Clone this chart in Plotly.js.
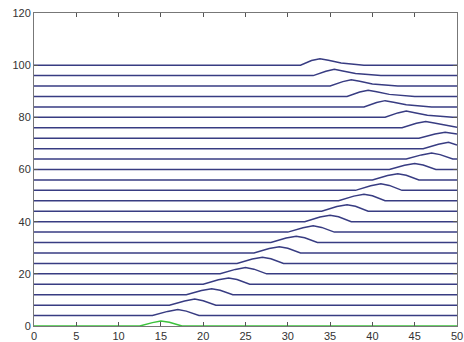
<!DOCTYPE html>
<html><head><meta charset="utf-8">
<script src="https://cdn.plot.ly/plotly-3.0.1.min.js"></script>
<style>html,body{margin:0;padding:0;background:#fff}#chart{width:464px;height:342px}</style>
</head><body><div id="chart"></div>
<script>
// Baseline offset of each trace (waterfall levels)
const offsets = [0,4,8,12,16,20,24,28,32,36,40,44,48,52,56,60,64,68,72,76,80,84,88,92,96,100];

// x points of each trace
const xPts = [
  [0,12.5,14,15,16,17.5,50],
  [0,14,15.8,17,18,19.5,50],
  [0,16,17.8,19,20,21.5,50],
  [0,18,19.8,21,22,23.5,50],
  [0,20,21.8,23,24,25.5,50],
  [0,22,23.8,25,26,27.5,50],
  [0,24,25.8,27,28,29.5,50],
  [0,26,27.8,29,30,31.5,50],
  [0,28,29.8,31,32,33.5,50],
  [0,30,31.8,33,34,35.5,50],
  [0,32,33.8,35,36,37.5,50],
  [0,34,35.8,37,38,39.5,50],
  [0,36,37.8,39,40,41.5,50],
  [0,38,39.8,41,42,43.5,50],
  [0,40,41.8,43,44,45.5,50],
  [0,42,43.8,45,46,47.5,50],
  [0,44,45.8,47,48,49.5,50],
  [0,46,47.8,49,50],
  [0,45.5,47.4,48.6,50],
  [0,43.5,45.2,46.3,47.3,48.8,50],
  [0,41.5,43,44,45,46.5,49.5,50],
  [0,39,40.5,41.5,42.5,44,47,50],
  [0,37,38.5,39.5,40.5,42,45,50],
  [0,35,36.5,37.5,38.5,40,43,50],
  [0,33,34.5,35.5,36.5,38,41,50],
  [0,31.5,32.8,33.8,34.8,36.3,39,50]
];

// y values of each trace
const yPts = [
  [0,0,1.3,1.9,1.4,0,0],
  [4,4,5.6,6.3,5.7,4,4],
  [8,8,9.6,10.3,9.7,8,8],
  [12,12,13.6,14.3,13.7,12,12],
  [16,16,17.7,18.4,17.8,16,16],
  [20,20,21.7,22.4,21.8,20,20],
  [24,24,25.7,26.4,25.8,24,24],
  [28,28,29.7,30.4,29.8,28,28],
  [32,32,33.7,34.4,33.8,32,32],
  [36,36,37.7,38.4,37.8,36,36],
  [40,40,41.8,42.5,41.9,40,40],
  [44,44,45.8,46.5,45.9,44,44],
  [48,48,49.8,50.5,49.9,48,48],
  [52,52,53.8,54.5,53.9,52,52],
  [56,56,57.7,58.4,57.8,56,56],
  [60,60,61.6,62.3,61.7,60,60],
  [64,64,65.6,66.3,65.7,64,64],
  [68,68,69.7,70.4,69.4],
  [72,72,73.6,74.3,73.6],
  [76,76,77.7,78.4,77.8,76.8,76.2],
  [80,80,81.7,82.4,81.8,80.8,80,80],
  [84,84,85.7,86.4,85.8,84.8,84,84],
  [88,88,89.7,90.4,89.8,88.8,88,88],
  [92,92,93.7,94.4,93.8,92.8,92,92],
  [96,96,97.7,98.4,97.8,96.8,96,96],
  [100,100,101.8,102.5,101.9,100.8,100,100]
];

const lineColors = ['#3cc23c'].concat(new Array(offsets.length-1).fill('#383c82'));

const traces = offsets.map((o,i)=>({
  x: xPts[i], y: yPts[i], type:'scatter', mode:'lines',
  line:{color: lineColors[i], width:1.5, shape:'linear'},
  hoverinfo:'skip', showlegend:false
})).reverse();

const axFont = {family:'Liberation Sans, Arial, sans-serif', size:11, color:'#333'};
const layout = {
  width:464, height:342,
  margin:{l:34,r:7,t:13,b:16},
  paper_bgcolor:'#fff', plot_bgcolor:'#fff',
  xaxis:{range:[0,50], tickvals:[0,5,10,15,20,25,30,35,40,45,50], ticks:'inside', ticklen:4, tickcolor:'#555',
    showline:true, linecolor:'#777', linewidth:1, mirror:'ticks', showgrid:false, zeroline:false,
    tickfont:axFont, ticklabeloverflow:'allow', fixedrange:true},
  yaxis:{range:[0,120], tickvals:[0,20,40,60,80,100,120], ticks:'inside', ticklen:4, tickcolor:'#555',
    showline:true, linecolor:'#777', linewidth:1, mirror:'ticks', showgrid:false, zeroline:false,
    tickfont:axFont, ticklabeloverflow:'allow', fixedrange:true}
};
Plotly.newPlot('chart', traces, layout, {staticPlot:true, displayModeBar:false});
</script></body></html>
